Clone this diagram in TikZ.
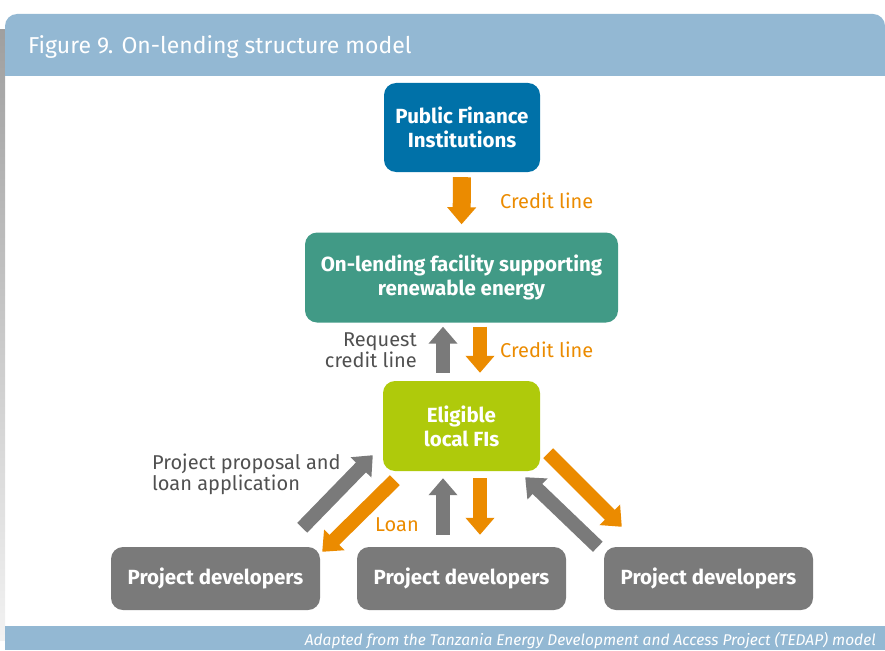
\documentclass[tikz,border=0pt]{standalone}
\usepackage{fontspec}
\setmainfont{Fira Sans}
\usepackage{tikz}
\usetikzlibrary{arrows.meta}

\definecolor{barblue}{RGB}{147,184,211}
\definecolor{pfiblue}{RGB}{0,113,168}
\definecolor{olfteal}{RGB}{65,154,134}
\definecolor{filime}{RGB}{175,202,11}
\definecolor{pdgray}{RGB}{122,122,122}
\definecolor{flowor}{RGB}{235,139,0}
\definecolor{txtgray}{RGB}{80,80,80}

\tikzset{
  box/.style={rounded corners=12pt, inner sep=0pt, align=center, text=white,
              font=\fontsize{20.5}{24}\selectfont\bfseries},
  orflow/.style={draw=flowor, line width=14pt, -{Triangle[width=28pt,length=17pt]}},
  grflow/.style={draw=pdgray, line width=14pt, -{Triangle[width=28pt,length=17pt]}},
  orlabel/.style={text=flowor, font=\fontsize{20}{21}\selectfont, inner sep=0pt},
  grlabel/.style={text=txtgray, font=\fontsize{20}{21}\selectfont, inner sep=0pt}
}

\begin{document}
\begin{tikzpicture}[x=1pt, y=-1pt]
        \useasboundingbox (0,0) rectangle (885,650);                  %
        \shade [top color=gray!75, bottom color=gray!10] (0,30) rectangle (5,640); %shadow
        \fill [barblue, rounded corners=12pt] (5,76) -- (5,14) -- (885,14) [sharp corners] -- (885,76) -- cycle; %header
        \node [anchor=base west, text=white, inner sep=0pt,
               font=\fontsize{23}{24}\selectfont] (title) at (28,54) {Figure 9. On-lending structure model};
        \fill [barblue]  (5,626) rectangle (885,650);                %footer
        \node [anchor=base east, text=white, inner sep=0pt,
               font=\fontsize{15.5}{16}\selectfont\itshape] (source) at (876,645)
              {Adapted from the Tanzania Energy Development and Access Project (TEDAP) model};

        \node [box, fill=pfiblue, minimum width=156pt, minimum height=89pt] (pfi) at (462,127.5)
              {Public Finance\\Institutions};                        %
        \node [box, fill=olfteal, minimum width=313pt, minimum height=90pt] (olf) at (461.5,277.5)
              {On-lending facility supporting\\renewable energy};   %
        \node [box, fill=filime, minimum width=157pt, minimum height=90pt] (efi) at (461.5,426)
              {Eligible\\local FIs};                                 %
        \node [box, fill=pdgray, minimum width=209pt, minimum height=63pt] (pd1) at (215.5,578.5)
              {Project developers};                                  %
        \node [box, fill=pdgray, minimum width=209pt, minimum height=63pt] (pd2) at (461.5,578.5)
              {Project developers};                                  %
        \node [box, fill=pdgray, minimum width=209pt, minimum height=63pt] (pd3) at (708.5,578.5)
              {Project developers};                                  %

        \draw [orflow, line width=18pt, shorten <=5pt, shorten >=8pt] (pfi.south) -- (olf.north); %
        \draw [grflow, shorten <=8pt, shorten >=4pt] ([xshift=-18.5pt]efi.north) -- ([xshift=-18.5pt]olf.south); %
        \draw [orflow, shorten <=4pt, shorten >=8pt] ([xshift=18.5pt]olf.south) -- ([xshift=18.5pt]efi.north); %
        \draw [grflow, shorten <=12pt, shorten >=7pt] ([xshift=-18.5pt]pd2.north) -- ([xshift=-18.5pt]efi.south); %
        \draw [orflow, shorten <=7pt, shorten >=12pt] ([xshift=18.5pt]efi.south) -- ([xshift=18.5pt]pd2.north); %
        \draw [grflow] ([shift={(-18,-19)}]pd1.north east) -- ([shift={(-10,-16)}]efi.south west); %
        \draw [orflow] ([shift={(12,9)}]efi.south west) -- ([shift={(2,5)}]pd1.north east);      %
        \draw [orflow] ([shift={(8,-18)}]efi.south east) -- ([shift={(18,-20)}]pd3.north west);   %
        \draw [grflow] ([shift={(-6,0)}]pd3.north west) -- ([shift={(-15,6)}]efi.south east);     %

        \node [orlabel, anchor=west] (cl1) at (500,201) {Credit line};   %
        \node [orlabel, anchor=west] (cl2) at (500,350) {Credit line};   %
        \node [grlabel, anchor=east, align=right] (req) at (417,350) {Request\\credit line}; %
        \node [grlabel, anchor=west, align=left] (ppl) at (152,474) {Project proposal and\\loan application}; %
        \node [orlabel, anchor=west] (loan) at (375,525) {Loan};         %
\end{tikzpicture}
\end{document}
